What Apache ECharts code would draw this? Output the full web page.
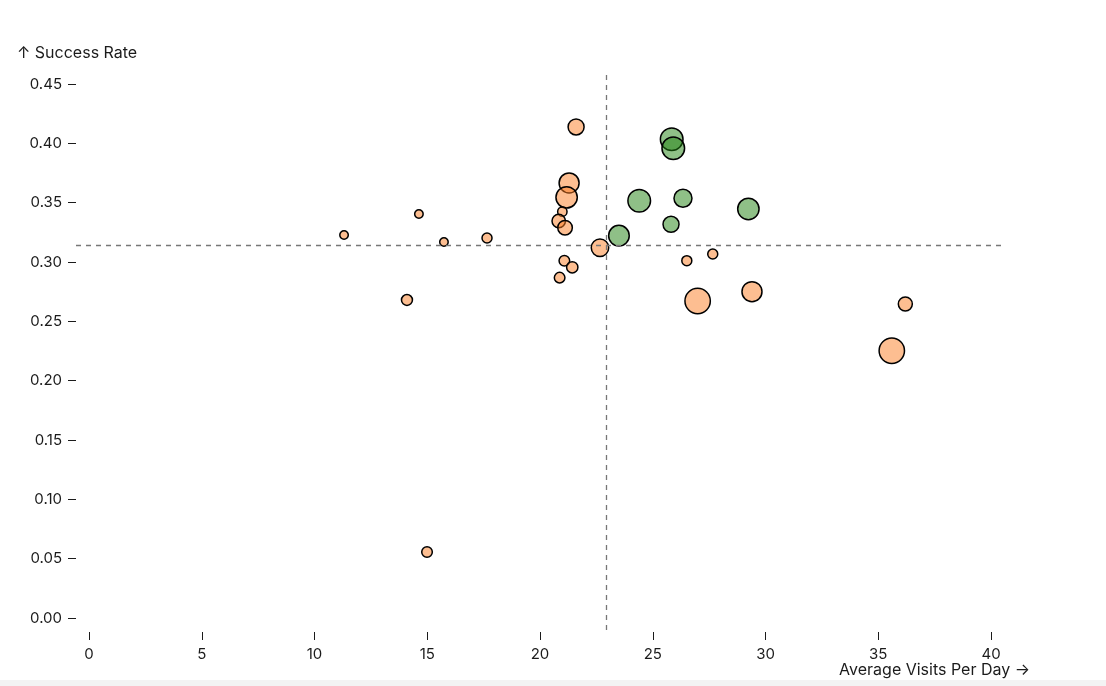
<!DOCTYPE html>
<html>
<head>
<meta charset="utf-8">
<script src="https://cdn.jsdelivr.net/npm/echarts@6/dist/echarts.min.js"></script>
<style>
  html, body { margin: 0; padding: 0; background: #f3f3f3; }
  #chart { width: 1106px; height: 680px; background: #fff; }
</style>
</head>
<body>
<div id="chart"></div>
<script>
// average visits per day, success rate, sample size (bubble area)
const visits = [11.31, 14.63, 15.74, 17.65, 14.10, 14.99, 21.60, 21.29, 21.18, 20.99,
  20.83, 21.11, 21.08, 21.43, 20.87, 22.66, 23.50, 24.40, 25.84, 25.91,
  26.34, 25.81, 29.24, 26.51, 27.66, 26.99, 29.40, 36.20, 35.60]
const successRate = [0.3227, 0.3404, 0.3168, 0.3202, 0.268, 0.0556, 0.4138, 0.3666, 0.3545, 0.3424,
  0.3345, 0.3289, 0.3011, 0.2955, 0.2868, 0.3120, 0.3222, 0.3516, 0.4034, 0.3958,
  0.3537, 0.3318, 0.3447, 0.3011, 0.3067, 0.2671, 0.2750, 0.2646, 0.2252]
const sampleSize = [18, 18, 18, 25, 30, 28, 64, 100, 114, 22,
  45, 53, 28, 32, 28, 76, 106, 128, 128, 128,
  81, 64, 114, 25, 25, 161, 100, 49, 161]

const meanVisits = 22.93
const meanRate = 0.3143

const xTicks = [0, 5, 10, 15, 20, 25, 30, 35, 40]
const yTicks = [0, 0.05, 0.1, 0.15, 0.2, 0.25, 0.3, 0.35, 0.4, 0.45]

const FONT = 'Inter, "Noto Sans", sans-serif'
const TEXT = '#1b1b1b'

const points = visits.map((v, i) => [v, successRate[i], sampleSize[i]])
const good = points.filter(p => p[0] > meanVisits && p[1] > meanRate)
const rest = points.filter(p => !(p[0] > meanVisits && p[1] > meanRate))

const bubble = (name, data, fill) => ({
  name,
  type: 'scatter',
  data,
  symbolSize: d => 2 * Math.sqrt(d[2]),
  itemStyle: { color: fill, borderColor: '#000', borderWidth: 1.5, opacity: 1 },
  emphasis: { disabled: true },
  silent: true
})

const chart = echarts.init(document.getElementById('chart'))

chart.setOption({
  animation: false,
  textStyle: { fontFamily: FONT },
  title: [
    { text: '↑ Success Rate', left: 12, top: 40,
      textStyle: { fontFamily: FONT, fontSize: 16, fontWeight: 'normal', color: TEXT } },
    { text: 'Average Visits Per Day →', right: 71, top: 657,
      textStyle: { fontFamily: FONT, fontSize: 16, fontWeight: 'normal', color: TEXT } }
  ],
  grid: { left: 76, right: 101, top: 72, bottom: 50 },
  xAxis: {
    type: 'value',
    min: -0.5765,
    max: 40.62,
    offset: 2,
    splitLine: { show: false },
    axisLine: { show: false, onZero: false },
    axisTick: { show: true, length: 8, customValues: xTicks, lineStyle: { color: TEXT, width: 1 } },
    axisLabel: { customValues: xTicks, margin: 15, fontSize: 15, color: TEXT, fontFamily: FONT }
  },
  yAxis: {
    type: 'value',
    min: -0.0101,
    max: 0.4601,
    splitLine: { show: false },
    axisLine: { show: false, onZero: false },
    axisTick: { show: true, length: 8, customValues: yTicks, lineStyle: { color: TEXT, width: 1 } },
    axisLabel: {
      customValues: yTicks, margin: 14, fontSize: 15, color: TEXT, fontFamily: FONT,
      formatter: v => v.toFixed(2)
    }
  },
  series: [
    {
      ...bubble('other', rest, 'rgba(251,125,35,0.5)'),
      markLine: {
        silent: true,
        symbol: 'none',
        precision: 4,
        label: { show: false },
        lineStyle: { color: '#777', type: [5, 5], width: 1.3 },
        data: [{ xAxis: meanVisits }, { yAxis: meanRate }]
      }
    },
    bubble('high', good, 'rgba(31,129,15,0.5)')
  ]
})
</script>
</body>
</html>
